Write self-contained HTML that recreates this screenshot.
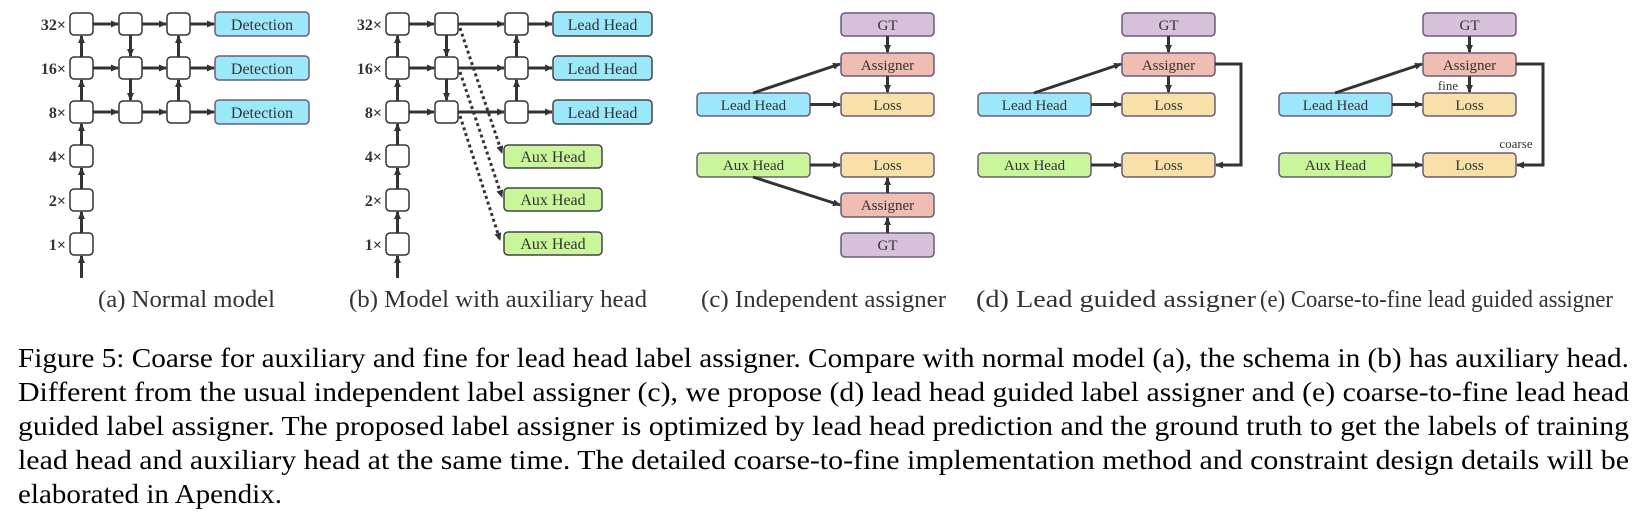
<!DOCTYPE html>
<html><head><meta charset="utf-8"><style>
html,body{margin:0;padding:0;background:#fff;}
body{width:1646px;height:532px;overflow:hidden;position:relative;}
</style></head><body>
<svg width="1646" height="532" viewBox="0 0 1646 532" xmlns="http://www.w3.org/2000/svg" style="position:absolute;left:0;top:0">
<defs>
<marker id="ar" markerWidth="8" markerHeight="8" refX="7" refY="4" orient="auto" markerUnits="userSpaceOnUse"><path d="M0,0.5 L8,4 L0,7.5 Z" fill="#333"/></marker>
</defs>
<g font-family="Liberation Serif, serif" fill="#333">
<g font-size="16" font-weight="bold" text-anchor="end">
<text x="66" y="30">32×</text><text x="66" y="74">16×</text><text x="66" y="118">8×</text>
<text x="66" y="162">4×</text><text x="66" y="206">2×</text><text x="66" y="250">1×</text>
<text x="382" y="30">32×</text><text x="382" y="74">16×</text><text x="382" y="118">8×</text>
<text x="382" y="162">4×</text><text x="382" y="206">2×</text><text x="382" y="250">1×</text>
</g>
</g>
<g stroke="#333" stroke-width="1.5" fill="#fff">
<rect x="70" y="13" width="23" height="22" rx="4"/><rect x="70" y="57" width="23" height="22" rx="4"/><rect x="70" y="101" width="23" height="22" rx="4"/>
<rect x="70" y="145" width="23" height="22" rx="4"/><rect x="70" y="189" width="23" height="22" rx="4"/><rect x="70" y="233" width="23" height="22" rx="4"/>
<rect x="119" y="13" width="23" height="22" rx="4"/><rect x="119" y="57" width="23" height="22" rx="4"/><rect x="119" y="101" width="23" height="22" rx="4"/>
<rect x="167" y="13" width="23" height="22" rx="4"/><rect x="167" y="57" width="23" height="22" rx="4"/><rect x="167" y="101" width="23" height="22" rx="4"/>
<rect x="386" y="13" width="23" height="22" rx="4"/><rect x="386" y="57" width="23" height="22" rx="4"/><rect x="386" y="101" width="23" height="22" rx="4"/>
<rect x="386" y="145" width="23" height="22" rx="4"/><rect x="386" y="189" width="23" height="22" rx="4"/><rect x="386" y="233" width="23" height="22" rx="4"/>
<rect x="435" y="13" width="23" height="22" rx="4"/><rect x="435" y="57" width="23" height="22" rx="4"/><rect x="435" y="101" width="23" height="22" rx="4"/>
<rect x="505" y="13" width="23" height="22" rx="4"/><rect x="505" y="57" width="23" height="22" rx="4"/><rect x="505" y="101" width="23" height="22" rx="4"/>
</g>
<g stroke="#6b5a78" stroke-width="1.5">
<g fill="#9ce8fb">
<rect x="215" y="12" width="94" height="24" rx="4"/><rect x="215" y="56" width="94" height="24" rx="4"/><rect x="215" y="100" width="94" height="24" rx="4"/>
<rect x="553" y="12" width="99" height="24" rx="4" stroke="#444"/><rect x="553" y="56" width="99" height="24" rx="4" stroke="#444"/><rect x="553" y="100" width="99" height="24" rx="4" stroke="#444"/>
<rect x="697" y="93" width="113" height="23" rx="4"/><rect x="978" y="93" width="113" height="23" rx="4"/><rect x="1279" y="93" width="113" height="23" rx="4"/>
</g>
<g fill="#c9f59b">
<rect x="504" y="145" width="98" height="23" rx="4" stroke="#444"/><rect x="504" y="188" width="98" height="23" rx="4" stroke="#444"/><rect x="504" y="232" width="98" height="23" rx="4" stroke="#444"/>
<rect x="697" y="153" width="113" height="24" rx="4"/><rect x="978" y="153" width="113" height="24" rx="4"/><rect x="1279" y="153" width="113" height="24" rx="4"/>
</g>
<g fill="#d6c0da">
<rect x="841" y="13" width="93" height="23" rx="4"/><rect x="841" y="233" width="93" height="24" rx="4"/>
<rect x="1122" y="13" width="93" height="23" rx="4"/><rect x="1423" y="13" width="93" height="23" rx="4"/>
</g>
<g fill="#efbdb1">
<rect x="841" y="53" width="93" height="23" rx="4"/><rect x="841" y="193" width="93" height="24" rx="4"/>
<rect x="1122" y="53" width="93" height="23" rx="4"/><rect x="1423" y="53" width="93" height="23" rx="4"/>
</g>
<g fill="#f8e0a9">
<rect x="841" y="93" width="93" height="23" rx="4"/><rect x="841" y="153" width="93" height="24" rx="4"/>
<rect x="1122" y="93" width="93" height="23" rx="4"/><rect x="1122" y="153" width="93" height="24" rx="4"/>
<rect x="1423" y="93" width="93" height="23" rx="4"/><rect x="1423" y="153" width="93" height="24" rx="4"/>
</g>
</g>
<g stroke="#333" stroke-width="3" fill="none" marker-end="url(#ar)">
<line x1="93" y1="24" x2="118" y2="24"/><line x1="93" y1="68" x2="118" y2="68"/><line x1="93" y1="112" x2="118" y2="112"/>
<line x1="142" y1="24" x2="166" y2="24"/><line x1="142" y1="68" x2="166" y2="68"/><line x1="142" y1="112" x2="166" y2="112"/>
<line x1="190" y1="24" x2="214" y2="24"/><line x1="190" y1="68" x2="214" y2="68"/><line x1="190" y1="112" x2="214" y2="112"/>
<line x1="81.5" y1="57" x2="81.5" y2="36"/><line x1="81.5" y1="101" x2="81.5" y2="80"/><line x1="81.5" y1="145" x2="81.5" y2="124"/><line x1="81.5" y1="189" x2="81.5" y2="168"/><line x1="81.5" y1="233" x2="81.5" y2="212"/><line x1="81.5" y1="278" x2="81.5" y2="256"/>
<line x1="130.5" y1="35" x2="130.5" y2="56"/><line x1="130.5" y1="79" x2="130.5" y2="100"/>
<line x1="178.5" y1="101" x2="178.5" y2="80"/><line x1="178.5" y1="57" x2="178.5" y2="36"/>
<line x1="409" y1="24" x2="434" y2="24"/><line x1="409" y1="68" x2="434" y2="68"/><line x1="409" y1="112" x2="434" y2="112"/>
<line x1="458" y1="24" x2="504" y2="24"/><line x1="458" y1="68" x2="504" y2="68"/><line x1="458" y1="112" x2="504" y2="112"/>
<line x1="528" y1="24" x2="552" y2="24"/><line x1="528" y1="68" x2="552" y2="68"/><line x1="528" y1="112" x2="552" y2="112"/>
<line x1="397.5" y1="57" x2="397.5" y2="36"/><line x1="397.5" y1="101" x2="397.5" y2="80"/><line x1="397.5" y1="145" x2="397.5" y2="124"/><line x1="397.5" y1="189" x2="397.5" y2="168"/><line x1="397.5" y1="233" x2="397.5" y2="212"/><line x1="397.5" y1="278" x2="397.5" y2="256"/>
<line x1="446.5" y1="35" x2="446.5" y2="56"/><line x1="446.5" y1="79" x2="446.5" y2="100"/>
<line x1="516.5" y1="101" x2="516.5" y2="80"/><line x1="516.5" y1="57" x2="516.5" y2="36"/>
<g stroke-dasharray="3,3">
<line x1="460" y1="28" x2="502" y2="153"/><line x1="460" y1="72" x2="502" y2="197"/><line x1="460" y1="116" x2="500" y2="240"/>
</g>
<line x1="887.5" y1="36" x2="887.5" y2="52"/><line x1="887.5" y1="76" x2="887.5" y2="92"/>
<line x1="810" y1="104.5" x2="840" y2="104.5"/><line x1="753" y1="93" x2="840" y2="64"/>
<line x1="810" y1="165" x2="840" y2="165"/><line x1="753" y1="177" x2="840" y2="205"/>
<line x1="887.5" y1="193" x2="887.5" y2="178"/><line x1="887.5" y1="233" x2="887.5" y2="218"/>
<line x1="1168.5" y1="36" x2="1168.5" y2="52"/><line x1="1168.5" y1="76" x2="1168.5" y2="92"/>
<line x1="1091" y1="104.5" x2="1121" y2="104.5"/><line x1="1034" y1="93" x2="1121" y2="64"/>
<line x1="1091" y1="165" x2="1121" y2="165"/>
<polyline points="1215,64 1241,64 1241,165 1216,165"/>
<line x1="1469.5" y1="36" x2="1469.5" y2="52"/><line x1="1469.5" y1="76" x2="1469.5" y2="92"/>
<line x1="1392" y1="104.5" x2="1422" y2="104.5"/><line x1="1335" y1="93" x2="1422" y2="64"/>
<line x1="1392" y1="165" x2="1422" y2="165"/>
<polyline points="1516,64 1543,64 1543,165 1517,165"/>
</g>
<g font-family="Liberation Serif, serif" font-size="16" fill="#333" text-anchor="middle">
<text x="262" y="30">Detection</text><text x="262" y="74">Detection</text><text x="262" y="118">Detection</text>
<text x="602.5" y="30">Lead Head</text><text x="602.5" y="74">Lead Head</text><text x="602.5" y="118">Lead Head</text>
<text x="553" y="162">Aux Head</text><text x="553" y="205">Aux Head</text><text x="553" y="249">Aux Head</text>
<g font-size="15">
<text x="887.5" y="30">GT</text><text x="887.5" y="70">Assigner</text><text x="887.5" y="110">Loss</text>
<text x="753.5" y="110">Lead Head</text><text x="753.5" y="170">Aux Head</text><text x="887.5" y="170">Loss</text>
<text x="887.5" y="210">Assigner</text><text x="887.5" y="250">GT</text>
<text x="1168.5" y="30">GT</text><text x="1168.5" y="70">Assigner</text><text x="1168.5" y="110">Loss</text>
<text x="1034.5" y="110">Lead Head</text><text x="1034.5" y="170">Aux Head</text><text x="1168.5" y="170">Loss</text>
<text x="1469.5" y="30">GT</text><text x="1469.5" y="70">Assigner</text><text x="1469.5" y="110">Loss</text>
<text x="1335.5" y="110">Lead Head</text><text x="1335.5" y="170">Aux Head</text><text x="1469.5" y="170">Loss</text>
</g>
<text x="1448" y="90" font-size="13">fine</text>
<text x="1516" y="148" font-size="13">coarse</text>
</g>
<g font-family="Liberation Serif, serif" font-size="24" fill="#333" lengthAdjust="spacingAndGlyphs">
<text x="98" y="307" textLength="177" lengthAdjust="spacingAndGlyphs">(a) Normal model</text>
<text x="349" y="307" textLength="298" lengthAdjust="spacingAndGlyphs">(b) Model with auxiliary head</text>
<text x="701" y="307" textLength="245" lengthAdjust="spacingAndGlyphs">(c) Independent assigner</text>
<text x="976" y="307" textLength="280" lengthAdjust="spacingAndGlyphs">(d) Lead guided assigner</text>
<text x="1260" y="307" textLength="353" lengthAdjust="spacingAndGlyphs">(e) Coarse-to-fine lead guided assigner</text>
</g>
<g font-family="Liberation Serif, serif" font-size="27" fill="#000">
<text x="18" y="367" textLength="1611" lengthAdjust="spacingAndGlyphs">Figure 5: Coarse for auxiliary and fine for lead head label assigner. Compare with normal model (a), the schema in (b) has auxiliary head.</text>
<text x="18" y="401" textLength="1611" lengthAdjust="spacingAndGlyphs">Different from the usual independent label assigner (c), we propose (d) lead head guided label assigner and (e) coarse-to-fine lead head</text>
<text x="18" y="435" textLength="1611" lengthAdjust="spacingAndGlyphs">guided label assigner. The proposed label assigner is optimized by lead head prediction and the ground truth to get the labels of training</text>
<text x="18" y="469" textLength="1611" lengthAdjust="spacingAndGlyphs">lead head and auxiliary head at the same time. The detailed coarse-to-fine implementation method and constraint design details will be</text>
<text x="18" y="503" textLength="264" lengthAdjust="spacingAndGlyphs">elaborated in Apendix.</text>
</g>
</svg>
</body></html>
